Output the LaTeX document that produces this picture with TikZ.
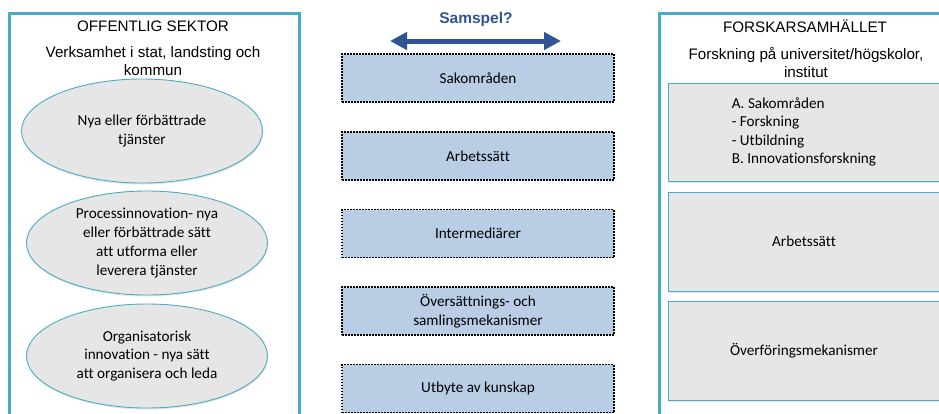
\documentclass[tikz,border=0pt]{standalone}
\usepackage{fontspec}
\setmainfont{Carlito}[Ligatures=NoCommon]
\newfontfamily\arialf{Liberation Sans}
\usetikzlibrary{shapes.geometric,arrows.meta,shadows}
\definecolor{teal}{HTML}{4BACC6}
\definecolor{ellfill}{HTML}{E6E6E6}
\definecolor{boxfill}{HTML}{B9CDE5}
\definecolor{darkblue}{HTML}{2F5597}
\tikzset{
  sector/.style={draw=teal, line width=2.6pt},
  oval/.style={ellipse, draw=teal, line width=0.9pt, fill=ellfill, minimum width=241pt, minimum height=104pt, inner sep=0pt, align=center, font=\fontsize{15.2}{18.8}\selectfont, drop shadow={opacity=0.2, shadow xshift=0.5pt, shadow yshift=-1.5pt}},
  midbox/.style={draw=black, line width=1.4pt, dash pattern=on 1.6pt off 1.4pt, fill=boxfill, minimum width=272pt, minimum height=48pt, inner sep=0pt, align=center, font=\fontsize{15.2}{18.8}\selectfont},
  rbox/.style={draw=teal, line width=0.9pt, fill=ellfill, minimum width=272pt, inner sep=0pt, align=left, font=\fontsize{15.2}{18.5}\selectfont, drop shadow={opacity=0.2, shadow xshift=0.5pt, shadow yshift=-1.5pt}},
  ttl/.style={font=\arialf\fontsize{15.2}{18}\selectfont, align=center, inner sep=0pt},
}
\begin{document}
\begin{tikzpicture}[x=1pt,y=-1pt]
\useasboundingbox (0,0) rectangle (939,413);
\clip (0,0) rectangle (939,413);
\fill[white] (0,0) rectangle (939,413);

% left sector
\node[sector, minimum width=290pt, minimum height=420pt, anchor=north west] (left) at (8,12) {};
\node[ttl] (lt) at (153,26) {OFFENTLIG\ SEKTOR};
\node[ttl] (ls) at (153,61) {Verksamhet i stat, landsting och\\kommun};
\node[oval] (e1) at (142,131) {Nya eller förbättrade\\tjänster};
\node[oval] (e2) at (147,243) {Processinnovation- nya\\eller förbättrade sätt\\att utforma eller\\leverera tjänster};
\node[oval] (e3) at (147,356) {Organisatorisk\\innovation - nya sätt\\att organisera och leda};

% middle
\node[font=\arialf\bfseries\fontsize{15.5}{18}\selectfont, text=darkblue, inner sep=0pt] (sam) at (476,19) {Samspel?};
\coordinate (aL) at (390,41);
\coordinate (aR) at (561,41);
\draw[darkblue, line width=5pt, {Triangle[length=17pt,width=17pt]}-{Triangle[length=17pt,width=17pt]}] (aL) -- (aR);
\node[midbox] (m1) at (478,78) {Sakområden};
\node[midbox] (m2) at (478,156) {Arbetssätt};
\node[midbox] (m3) at (478,233.5) {Intermediärer};
\node[midbox] (m4) at (478,311) {Översättnings- och\\samlingsmekanismer};
\node[midbox] (m5) at (478,388.5) {Utbyte av kunskap};

% right sector
\node[sector, minimum width=290pt, minimum height=420pt, anchor=north west] (right) at (658,12) {};
\node[ttl] (rt) at (805,26) {FORSKARSAMHÄLLET};
\node[ttl] (rs) at (806,62.5) {Forskning på universitet/högskolor,\\institut};
\node[rbox, minimum height=98pt] (r1) at (804,132) {A. Sakområden\\- Forskning\\- Utbildning\\B. Innovationsforskning};
\node[rbox, minimum height=99pt] (r2) at (804,241.5) {Arbetssätt};
\node[rbox, minimum height=99pt] (r3) at (804,350.5) {Överföringsmekanismer};
\end{tikzpicture}
\end{document}
